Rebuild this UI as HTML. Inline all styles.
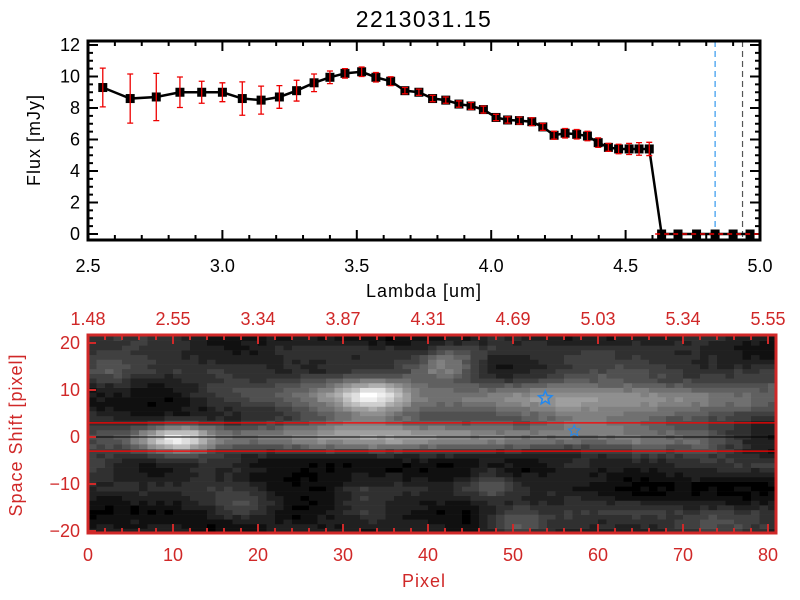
<!DOCTYPE html>
<html><head><meta charset="utf-8"><style>
body{margin:0;background:#fff;width:800px;height:600px;overflow:hidden}
svg{display:block;font-family:"Liberation Sans",sans-serif}
</style></head><body>
<svg id="chart" width="800" height="600" viewBox="0 0 800 600" xmlns="http://www.w3.org/2000/svg">
<rect width="800" height="600" fill="#fff"/>
<text x="424" y="27" font-size="23" text-anchor="middle" letter-spacing="1.5">2213031.15</text>
<g id="top"></g>
<g id="bot"></g>
</svg>
<script>
const lambdas=[2.555,2.657,2.754,2.842,2.923,3.0,3.074,3.144,3.212,3.276,3.341,3.4,3.456,3.518,3.571,3.626,3.679,3.731,3.782,3.831,3.88,3.925,3.971,4.018,4.061,4.105,4.151,4.192,4.234,4.275,4.318,4.358,4.398,4.436,4.474,4.513,4.55,4.588,4.634,4.695,4.764,4.833,4.9,4.963];
const flux=[9.3,8.6,8.7,9.0,9.0,9.0,8.6,8.5,8.7,9.1,9.6,9.95,10.2,10.3,9.95,9.7,9.1,9.0,8.6,8.5,8.25,8.13,7.9,7.4,7.24,7.2,7.13,6.8,6.27,6.4,6.33,6.22,5.8,5.5,5.4,5.4,5.4,5.4,0,0,0,0,0,0];
const fluxErr=[1.23,1.56,1.5,0.97,0.7,0.6,1.06,0.89,0.72,0.66,0.56,0.4,0.3,0.3,0.3,0.28,0.2,0.2,0.2,0.2,0.2,0.22,0.22,0.2,0.2,0.22,0.25,0.22,0.25,0.3,0.3,0.3,0.3,0.25,0.3,0.35,0.4,0.42,0,0,0,0,0,0];
const xTicks=[2.5,3.0,3.5,4.0,4.5,5.0];
const yTicks=[0,2,4,6,8,10,12];
const markerLines=[4.833,4.935];
const pixTicks=[0,10,20,30,40,50,60,70,80];
const lamTopLabels=["1.48","2.55","3.34","3.87","4.31","4.69","5.03","5.34","5.55"];
const shiftTicks=[-20,-10,0,10,20];
const blobX=[10,36,33,60,42,47,50,18,2,14,32,60,75,27,58];
const blobY=[-0.5,0,9,8,16,-10,-18,-14.5,13,-6,16,15,-18,10,2];
const blobAmp=[0.6,0.55,0.6,0.55,0.3,0.22,0.32,0.2,0.12,0.12,0.12,0.12,0.14,0.12,0.15];
const blobSx=[3,22,3,20,2.5,2,2.5,3,2.5,4,5,6,4,3,3];
const blobSy=[2.2,2.3,2.6,3,2.5,2.5,2.5,2.5,4,2,2.5,3,2,3,2];
const starPix=[53.8,57.2];
const starShift=[8.3,1.3];

const NS="http://www.w3.org/2000/svg";
function mk(p,t,a){const e=document.createElementNS(NS,t);for(const k in a)e.setAttribute(k,a[k]);p.appendChild(e);return e;}
const T=document.getElementById('top');
const L=88,R=760,TT=41,BB=240;
const sx=v=>L+(v-2.5)*(R-L)/2.5;
const sy=v=>234-v*15.75;
for(const t of xTicks){
 let g=mk(T,'text',{x:sx(t),y:272,'font-size':18,'text-anchor':'middle'});g.textContent=t.toFixed(1);
 
}
for(let v=2.5;v<=5.0001;v+=0.1){const maj=Math.abs(v*2-Math.round(v*2))<1e-6;const h=maj?10:5;
 mk(T,'line',{x1:sx(v),x2:sx(v),y1:BB,y2:BB-h,stroke:'#000','stroke-width':2});
 mk(T,'line',{x1:sx(v),x2:sx(v),y1:TT,y2:TT+h,stroke:'#000','stroke-width':2});}
for(let v=0;v<=12.001;v+=0.5){const maj=Math.abs(v%2)<1e-6;const h=maj?10:5;
 mk(T,'line',{x1:L,x2:L+h,y1:sy(v),y2:sy(v),stroke:'#000','stroke-width':2});
 mk(T,'line',{x1:R,x2:R-h,y1:sy(v),y2:sy(v),stroke:'#000','stroke-width':2});}
for(const t of yTicks){let g=mk(T,'text',{x:80,y:sy(t)+6,'font-size':18,'text-anchor':'end'});g.textContent=t;
 }
let xl=mk(T,'text',{x:424,y:297,'font-size':18,'text-anchor':'middle','letter-spacing':1});xl.textContent='Lambda [um]';

let yl=mk(T,'text',{x:0,y:0,'font-size':18,'text-anchor':'middle','letter-spacing':1,transform:'translate(40,140) rotate(-90)'});yl.textContent='Flux [mJy]';

markerLines.forEach((m,i)=>{let l=mk(T,'line',{x1:sx(m),x2:sx(m),y1:TT,y2:BB,stroke:i?'#555':'#3399ee','stroke-width':1.2,'stroke-dasharray':'6,4'});
 });
let pts=lambdas.map((l,i)=>sx(l)+','+sy(flux[i])).join(' ');
let pl=mk(T,'polyline',{points:pts,fill:'none',stroke:'#000','stroke-width':2.5});

lambdas.forEach((l,i)=>{const x=sx(l),y=sy(flux[i]);
 let s=mk(T,'rect',{x:x-4.5,y:y-4.5,width:9,height:9,fill:'#000'});
 
 if(fluxErr[i]>0){const y1=sy(flux[i]+fluxErr[i]),y2=sy(flux[i]-fluxErr[i]);
  let e=mk(T,'path',{d:`M${x},${y1}V${y2}M${x-3},${y1}H${x+3}M${x-3},${y2}H${x+3}`,stroke:'#e00','stroke-width':1.3,fill:'none'});
  }});
let zl=mk(T,'line',{x1:sx(4.61),x2:R,y1:sy(0),y2:sy(0),stroke:'#e00','stroke-width':1.5,'stroke-dasharray':'5,4'});

mk(T,'rect',{x:L,y:TT,width:R-L,height:BB-TT,fill:'none',stroke:'#000','stroke-width':3});

const B=document.getElementById('bot');
const BL=88,BR=776,BT=335,BBt=533,RED='#d02828';
const px=p=>88+p*8.5;
const py=s=>437-s*4.7;
let seed=12345;function rnd(){seed=(seed*1103515245+12345)%2147483648;return seed/2147483648;}
const NG=[];for(let i=0;i<12;i++){NG.push([]);for(let j=0;j<10;j++)NG[i].push(rnd());}
function noise(c,r){const u=c/8,v=(r+21)/5;const i=Math.min(10,Math.floor(u)),j=Math.min(8,Math.floor(v));const fu=u-i,fv=v-j;
 return NG[i][j]*(1-fu)*(1-fv)+NG[i+1][j]*fu*(1-fv)+NG[i][j+1]*(1-fu)*fv+NG[i+1][j+1]*fu*fv;}
const img=mk(B,'g',{});

for(let c=0;c<81;c++){for(let r=-21;r<=21;r++){
 let v=Math.max(0,noise(c,r)*0.36-0.12)+rnd()*0.05;
 for(let k=0;k<blobX.length;k++){const dx=(c-blobX[k])/blobSx[k],dy=(r-blobY[k])/blobSy[k];v+=blobAmp[k]*Math.exp(-0.5*(dx*dx+dy*dy));}
 v=Math.min(1,v);v=Math.round(v*16)/16;const g=Math.round(v*255);
 const y0=Math.max(BT,py(r+0.5)),y1=Math.min(BBt,py(r-0.5));if(y1<=y0)continue;
 mk(img,'rect',{x:px(c),y:y0,width:8.6,height:y1-y0+0.3,fill:`rgb(${g},${g},${g})`});
}}
mk(B,'line',{x1:BL,x2:BR,y1:py(0),y2:py(0),stroke:'#000','stroke-width':1});
[3,-3].forEach(s=>{let l=mk(B,'line',{x1:BL,x2:BR,y1:py(s),y2:py(s),stroke:'#f00','stroke-width':1.3});
 });
function star(cx,cy,r,sw){let d='';for(let i=0;i<10;i++){const a=-Math.PI/2+i*Math.PI/5,rr=i%2?r*0.45:r;d+=(i?'L':'M')+(cx+rr*Math.cos(a)).toFixed(1)+','+(cy+rr*Math.sin(a)).toFixed(1);}
 return mk(B,'path',{d:d+'Z',fill:'none',stroke:'#2288ee','stroke-width':sw});}
starPix.forEach((p,i)=>{let s=star(px(p),py(starShift[i]),i?6:7,i?1:1.5);
 });
for(let p=0;p<=80;p+=2){const maj=p%10==0,h=maj?9:5;
 mk(B,'line',{x1:px(p),x2:px(p),y1:BBt,y2:BBt-h,stroke:RED,'stroke-width':2});
 mk(B,'line',{x1:px(p),x2:px(p),y1:BT,y2:BT+h,stroke:RED,'stroke-width':2});}
pixTicks.forEach((p,i)=>{let t=mk(B,'text',{x:px(p),y:561,'font-size':18,'text-anchor':'middle',fill:RED});t.textContent=p;
 
 let u=mk(B,'text',{x:px(p),y:325,'font-size':18,'text-anchor':'middle',fill:RED});u.textContent=lamTopLabels[i];
 });
shiftTicks.forEach(s=>{mk(B,'line',{x1:BL,x2:BL+8,y1:py(s),y2:py(s),stroke:RED,'stroke-width':2});
 let t=mk(B,'text',{x:80,y:py(s)+6,'font-size':18,'text-anchor':'end',fill:RED});t.textContent=s<0?'\u2212'+(-s):s;
 });
let pxl=mk(B,'text',{x:424,y:587,'font-size':18,'text-anchor':'middle',fill:RED,'letter-spacing':1});pxl.textContent='Pixel';

let ssl=mk(B,'text',{x:0,y:0,'font-size':18,'text-anchor':'middle',fill:RED,'letter-spacing':1,transform:'translate(22,435) rotate(-90)'});ssl.textContent='Space Shift [pixel]';

mk(B,'rect',{x:BL,y:BT,width:BR-BL,height:BBt-BT,fill:'none',stroke:RED,'stroke-width':3});
</script>
</body></html>
